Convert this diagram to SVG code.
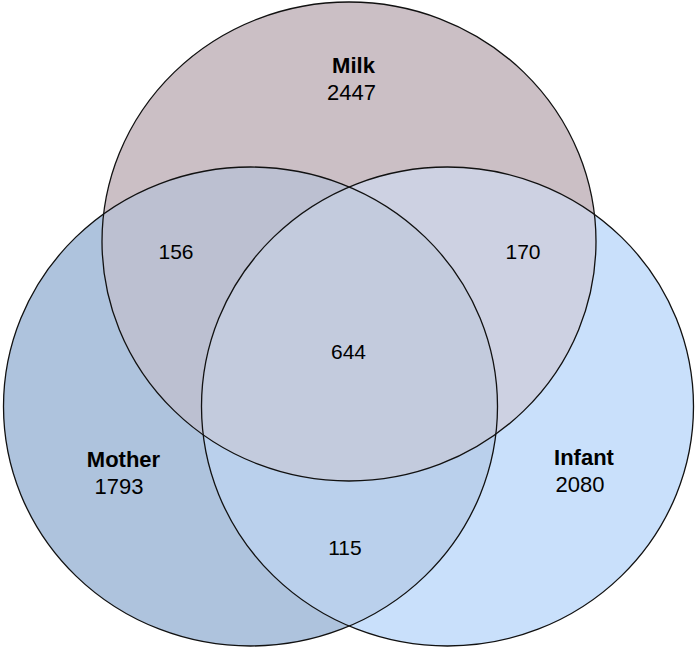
<svg xmlns="http://www.w3.org/2000/svg" width="698" height="650" viewBox="0 0 698 650">
  <style>
    .outline { fill: none; stroke: #111; stroke-width: 1.3; }
    .lbl { font-family: "Liberation Sans", Arial, sans-serif; font-size: 22px; font-weight: bold; fill: #000; text-anchor: middle; }
    .num { font-family: "Liberation Sans", Arial, sans-serif; font-size: 22px; fill: #000; text-anchor: middle; }
    .inum { font-family: "Liberation Sans", Arial, sans-serif; font-size: 21px; fill: #000; text-anchor: middle; }
  </style>
  <defs>
    <ellipse id="eMilk" cx="349" cy="241.5" rx="247" ry="239.5"/>
    <ellipse id="eMother" cx="250.5" cy="406.5" rx="247" ry="239.5"/>
    <ellipse id="eInfant" cx="447.5" cy="406.5" rx="246" ry="239.5"/>
    <clipPath id="cMother"><use href="#eMother"/></clipPath>
    <clipPath id="cInfant"><use href="#eInfant"/></clipPath>
  </defs>
  <rect width="698" height="650" fill="#ffffff"/>

  <!-- region fills -->
  <g id="fills">
    <use href="#eMother" fill="#aec3dd"/>
    <use href="#eInfant" fill="#c9e0fb"/>
    <use href="#eMilk" fill="#cbbfc5"/>
    <use href="#eInfant" fill="#bad0ec" clip-path="url(#cMother)"/>
    <use href="#eMilk" fill="#bcc0d1" clip-path="url(#cMother)"/>
    <use href="#eMilk" fill="#cdd1e2" clip-path="url(#cInfant)"/>
    <g clip-path="url(#cMother)">
      <use href="#eMilk" fill="#c3cbdd" clip-path="url(#cInfant)"/>
    </g>
  </g>

  <g id="connectors"></g>

  <g id="milk">
    <use href="#eMilk" class="outline"/>
    <text class="lbl" x="353.5" y="73">Milk</text>
    <text class="num" x="351.5" y="100">2447</text>
  </g>
  <g id="mother">
    <use href="#eMother" class="outline"/>
    <text class="lbl" x="123.5" y="467">Mother</text>
    <text class="num" x="119" y="494">1793</text>
  </g>
  <g id="infant">
    <use href="#eInfant" class="outline"/>
    <text class="lbl" x="584" y="465">Infant</text>
    <text class="num" x="580" y="492">2080</text>
  </g>

  <g id="milk-mother"><text class="inum" x="176" y="259">156</text></g>
  <g id="milk-infant"><text class="inum" x="523" y="259">170</text></g>
  <g id="all"><text class="inum" x="348.5" y="359">644</text></g>
  <g id="mother-infant"><text class="inum" x="345" y="555">115</text></g>
</svg>
